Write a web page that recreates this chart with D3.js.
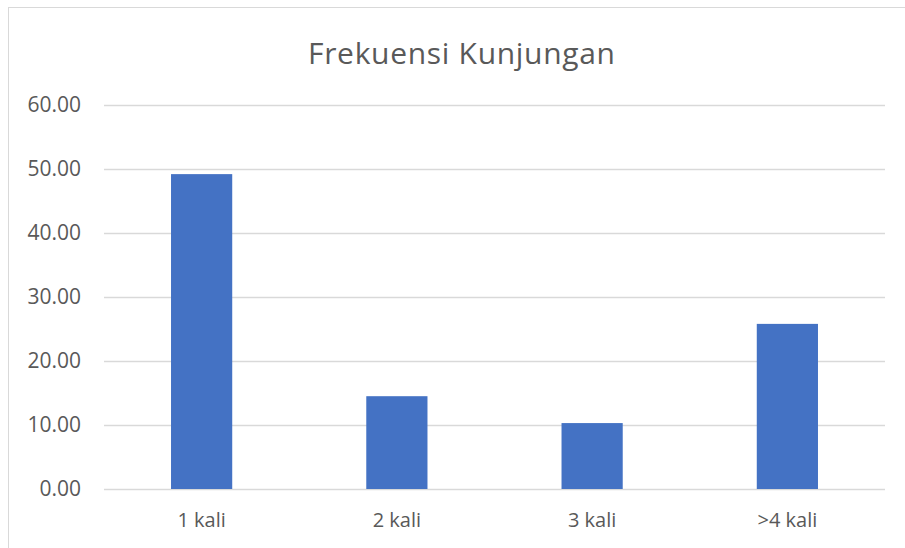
<!DOCTYPE html>
<html><head><meta charset="utf-8">
<script src="https://cdn.jsdelivr.net/npm/d3@7"></script>
<style>html,body{margin:0;padding:0;background:#fff;}svg{display:block;}</style>
</head><body>
<script>
const categories = ["1 kali", "2 kali", "3 kali", ">4 kali"];
const values = [49.2, 14.5, 10.3, 25.8];
const yTicks = [0, 10, 20, 30, 40, 50, 60];
const title = "Frekuensi Kunjungan";

const W = 905, H = 548;
const svg = d3.select("body").append("svg").attr("width", W).attr("height", H);
svg.append("rect").attr("x", 8.5).attr("y", 7.5).attr("width", 920).attr("height", 560)
  .attr("fill", "#fff").attr("stroke", "#d9d9d9").attr("stroke-width", 1);

const m = {left: 104, right: 885, top: 105, bottom: 489};
const x = d3.scaleBand().domain(categories).range([m.left, m.right]).padding(0);
const y = d3.scaleLinear().domain([0, 60]).range([m.bottom, m.top]);
const font = "'Open Sans', sans-serif";

const yAxis = d3.axisLeft(y).tickValues(yTicks).tickSize(-(m.right - m.left)).tickPadding(23).tickFormat(d3.format(".2f"));
const gy = svg.append("g").attr("transform", `translate(${m.left},0)`).call(yAxis);
gy.select(".domain").remove();
gy.selectAll(".tick line").attr("stroke", "#d9d9d9").attr("stroke-width", 1.3);
gy.selectAll(".tick text").attr("fill", "#595959").style("font-family", font).style("font-size", "21px");

const bw = x.bandwidth() / 3.19;
svg.append("g").selectAll("rect").data(categories).join("rect")
  .attr("x", (d) => x(d) + x.bandwidth() / 2 - bw / 2)
  .attr("width", bw)
  .attr("y", (d, i) => y(values[i]))
  .attr("height", (d, i) => y(0) - y(values[i]))
  .attr("fill", "#4472c4");

const xAxis = d3.axisBottom(x).tickSize(0).tickPadding(24);
const gx = svg.append("g").attr("transform", `translate(0,${m.bottom})`).call(xAxis);
gx.select(".domain").remove();
gx.selectAll(".tick text").attr("fill", "#595959").style("font-family", font).style("font-size", "20px");

svg.append("text").attr("x", 461.5).attr("y", 64).attr("text-anchor", "middle")
  .attr("fill", "#595959").style("font-family", font).style("font-size", "30px")
  .attr("textLength", 307).attr("lengthAdjust", "spacing")
  .text(title);
</script>
</body></html>
